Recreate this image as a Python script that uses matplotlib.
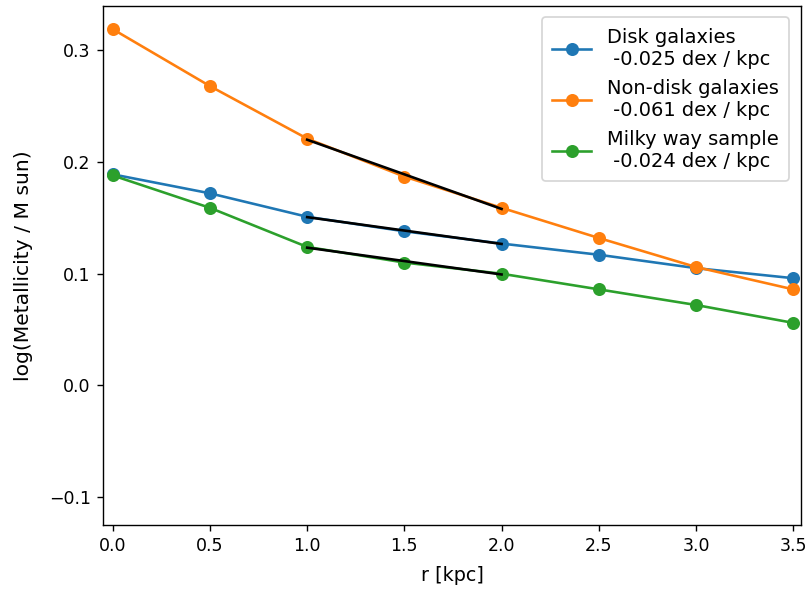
import numpy as np
import matplotlib.pyplot as plt

# radial bins and mean log metallicity per sample
r = [0.0, 0.5, 1.0, 1.5, 2.0, 2.5, 3.0, 3.5]
disk = [0.189, 0.172, 0.151, 0.138, 0.127, 0.117, 0.105, 0.096]
nondisk = [0.319, 0.268, 0.221, 0.187, 0.159, 0.132, 0.106, 0.086]
milky = [0.188, 0.159, 0.124, 0.110, 0.100, 0.086, 0.072, 0.056]

labels = ["Disk galaxies\n -0.025 dex / kpc",
          "Non-disk galaxies\n -0.061 dex / kpc",
          "Milky way sample\n -0.024 dex / kpc"]

fig = plt.figure(figsize=(8.05/1.25, 5.92/1.25), dpi=125)
ax = fig.add_subplot(111)
fig.subplots_adjust(left=103/805, right=801/805, top=1-5.7/592, bottom=1-525/592)

for y, lab in zip([disk, nondisk, milky], labels):
    ax.plot(r, y, marker='o', markersize=6.5, label=lab)

# linear fits over 1-2 kpc
r = np.array(r)
sel = (r >= 1.0) & (r <= 2.0)
for y in [disk, nondisk, milky]:
    y = np.array(y)
    p = np.polyfit(r[sel], y[sel], 1)
    ax.plot(r[sel], np.polyval(p, r[sel]), color='black')

ax.set_xlim(-0.05, 3.54)
ax.set_ylim(-0.125, 0.34)
ax.set_xlabel('r [kpc]', fontsize=11, labelpad=6)
ax.set_ylabel('log(Metallicity / M sun)', fontsize=11.7, labelpad=9)
ax.legend(loc='upper right', fontsize=11.2, borderpad=0.55, borderaxespad=0.6)

plt.savefig('out.png')
